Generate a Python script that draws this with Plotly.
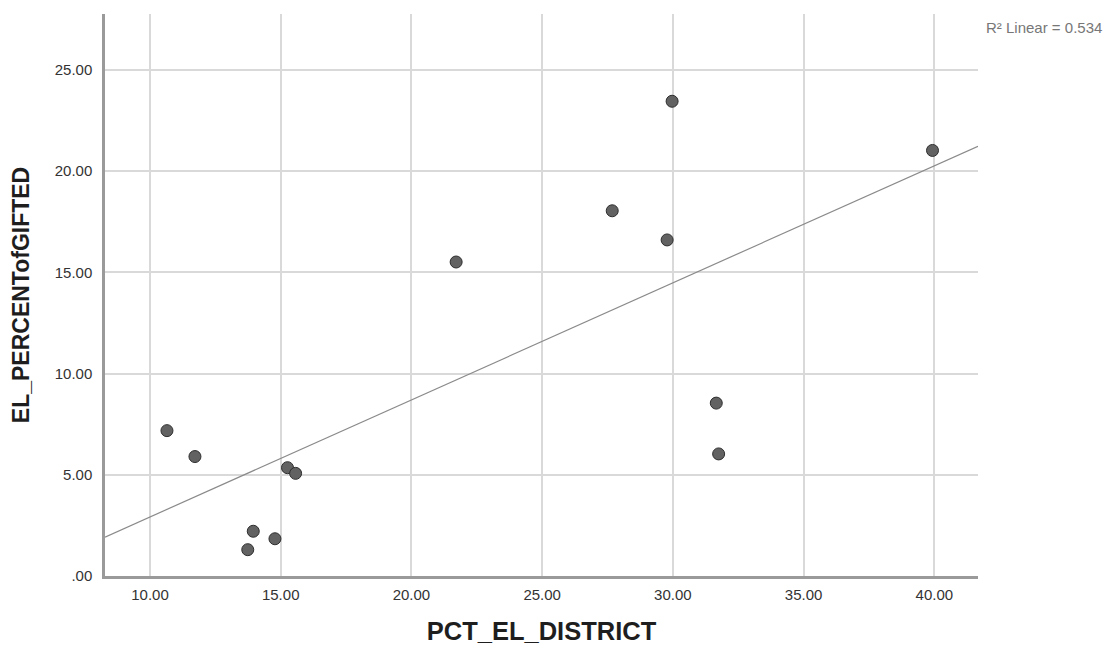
import numpy as np
import plotly.graph_objects as go

pct_el_district = [10.65, 11.72, 13.95, 13.74, 14.78, 15.26, 15.57, 21.71, 27.68, 29.78, 29.97, 31.66, 31.75, 39.93]
el_percent_gifted = [7.18, 5.90, 2.21, 1.30, 1.84, 5.35, 5.07, 15.51, 18.04, 16.60, 23.45, 8.54, 6.03, 21.02]

x_ticks = [10, 15, 20, 25, 30, 35, 40]
x_tick_labels = ["10.00", "15.00", "20.00", "25.00", "30.00", "35.00", "40.00"]
y_ticks = [0, 5, 10, 15, 20, 25]
y_tick_labels = [".00", "5.00", "10.00", "15.00", "20.00", "25.00"]
r2_label = "R² Linear = 0.534"

x_range = [8.28, 41.67]
y_range = [0, 27.76]

slope, intercept = np.polyfit(pct_el_district, el_percent_gifted, 1)
fit_x = np.array(x_range)
fit_y = intercept + slope * fit_x

fig = go.Figure()
fig.add_trace(go.Scatter(
    x=fit_x, y=fit_y, mode="lines",
    line=dict(color="#8a8a8a", width=1.2),
    hoverinfo="skip", showlegend=False,
))
fig.add_trace(go.Scatter(
    x=pct_el_district, y=el_percent_gifted, mode="markers",
    marker=dict(size=12, color="#626262", line=dict(color="#2e2e2e", width=1)),
    showlegend=False,
))

fig.update_layout(
    width=1105, height=640,
    margin=dict(l=97, r=135, t=6, b=70),
    paper_bgcolor="white", plot_bgcolor="white",
    font=dict(family="Liberation Sans, Arial, sans-serif", color="#333333"),
    xaxis=dict(
        range=x_range, tickvals=x_ticks, ticktext=x_tick_labels,
        showgrid=True, gridcolor="#d9d9d9", gridwidth=1.5,
        showline=True, linecolor="#9a9a9a", linewidth=2.5,
        zeroline=False, ticks="", ticklabelstandoff=3,
        tickfont=dict(size=15, color="#333333"),
        title=dict(text="<b>PCT_EL_DISTRICT</b>", font=dict(size=25.5, color="#1e1e1e"), standoff=21),
    ),
    yaxis=dict(
        range=y_range, tickvals=y_ticks, ticktext=y_tick_labels,
        showgrid=True, gridcolor="#d9d9d9", gridwidth=1.5,
        showline=True, linecolor="#9a9a9a", linewidth=2.5,
        zeroline=False, ticks="", ticklabelstandoff=7,
        tickfont=dict(size=15, color="#333333"),
        title=dict(text="<b>EL_PERCENTofGIFTED</b>", font=dict(size=23, color="#1e1e1e"), standoff=20),
    ),
    annotations=[dict(
        text=r2_label, xref="paper", yref="paper", x=1.0, y=1.0,
        xanchor="left", yanchor="middle", xshift=6, yshift=-13, showarrow=False,
        font=dict(size=15, color="#777777"),
    )],
)

fig.write_html("out.html")
